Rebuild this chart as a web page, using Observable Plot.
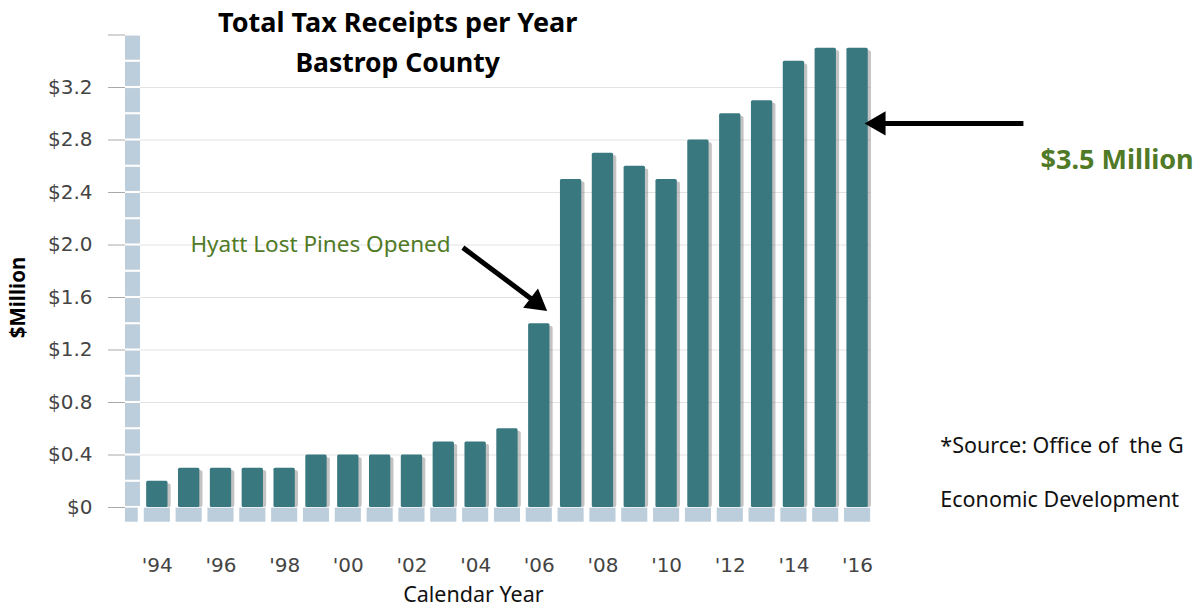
<!DOCTYPE html>
<html>
<head>
<meta charset="utf-8">
<script src="https://cdn.jsdelivr.net/npm/d3@7"></script>
<script src="https://cdn.jsdelivr.net/npm/@observablehq/plot@0.6"></script>
<style>
  html, body { margin: 0; padding: 0; background: #fff; overflow: hidden; }
  #chart svg { overflow: visible; display: block; }
</style>
</head>
<body>
<div id="chart"></div>
<script>
const years = [1994,1995,1996,1997,1998,1999,2000,2001,2002,2003,2004,2005,2006,2007,2008,2009,2010,2011,2012,2013,2014,2015,2016];
const receipts = [0.2,0.3,0.3,0.3,0.3,0.4,0.4,0.4,0.4,0.5,0.5,0.6,1.4,2.5,2.7,2.6,2.5,2.8,3.0,3.1,3.4,3.5,3.5];
const yTicks = [0,0.4,0.8,1.2,1.6,2.0,2.4,2.8,3.2,3.6];
const yTickLabels = ["$0","$0.4","$0.8","$1.2","$1.6","$2.0","$2.4","$2.8","$3.2",""];
const xTickYears = [1994,1996,1998,2000,2002,2004,2006,2008,2010,2012,2014,2016];
const xTickLabels = ["'94","'96","'98","'00","'02","'04","'06","'08","'10","'12","'14","'16"];
const bandSteps = [0,0.2,0.4,0.6,0.8,1.0,1.2,1.4,1.6,1.8,2.0,2.2,2.4,2.6,2.8,3.0,3.2,3.4];

// annotation arrows: tail and head centre in data units, head rotation in degrees
const arrowTailX = [2003.6, 2021.21];
const arrowTailY = [1.98, 2.926];
const arrowHeadX = [2005.9, 2016.66];
const arrowHeadY = [1.5627, 2.926];
const arrowRotate = [127.7, 270];

const bars = years.map((y, i) => ({year: y, value: receipts[i]}));
const arrows = arrowTailX.map((x, i) => ({x1: x, y1: arrowTailY[i], x2: arrowHeadX[i], y2: arrowHeadY[i], rot: arrowRotate[i]}));
const barHalf = 0.335;
const segHalf = 0.41;

const titleFont = "'Noto Sans', 'Open Sans', sans-serif";
const axisFont = "'DejaVu Sans', Verdana, sans-serif";
const green = "#507a26";

const chart = Plot.plot({
  width: 1199,
  height: 608,
  marginLeft: 125,
  marginRight: 326,
  marginTop: 34.5,
  marginBottom: 101,
  x: {type: "linear", domain: [1993, 2016.5], axis: null},
  y: {domain: [0, 3.6]},
  style: {fontFamily: axisFont, background: "#fff"},
  marks: [
    Plot.ruleY(yTicks.slice(1, -1), {x1: 1993.47, x2: 2016.42, stroke: "#e3e3e3", strokeWidth: 1.2}),
    Plot.rect(bandSteps, {x1: 1993, x2: 1993.47, y1: d => d + 0.008, y2: d => d + 0.192, fill: "#bccddb"}),
    Plot.rect([0], {x1: 1993, x2: 1993.4, y1: -0.112, y2: -0.005, fill: "#bccddb"}),
    Plot.rect(years, {x1: d => d - segHalf, x2: d => d + segHalf, y1: -0.112, y2: -0.005, fill: "#bccddb"}),
    Plot.rect(bars, {x1: d => d.year - barHalf + 0.08, x2: d => d.year + barHalf + 0.1, y1: 0, y2: d => d.value - 0.02, fill: "#7a7a7a", fillOpacity: 0.45, rx: 2}),
    Plot.rect(bars, {x1: d => d.year - barHalf, x2: d => d.year + barHalf, y1: 0, y2: "value", fill: "#3a7880", rx: 1.5}),
    Plot.axisY({ticks: yTicks, tickFormat: d => yTickLabels[yTicks.indexOf(d)], tickSize: 17, tickPadding: 16, stroke: "#aaa", fill: "#444", fontSize: 20, fontFamily: axisFont, label: null}),
    Plot.text(xTickYears, {x: d => d, y: -0.44, text: (d, i) => xTickLabels[i], fontSize: 20, fill: "#444", fontFamily: axisFont}),
    Plot.text(["Calendar Year"], {x: 2003.93, y: -0.665, text: d => d, fontSize: 21.5, fill: "#111", fontFamily: titleFont}),
    Plot.text(["$Million"], {x: 1989.64, y: 1.6, text: d => d, rotate: -90, fontSize: 20.5, fontWeight: "bold", fill: "#000", fontFamily: titleFont}),
    Plot.text(["Total Tax Receipts per Year"], {x: 2001.55, y: 3.69, text: d => d, fontSize: 27, fontWeight: "bold", fill: "#000", fontFamily: titleFont}),
    Plot.text(["Bastrop County"], {x: 2001.55, y: 3.383, text: d => d, fontSize: 26.5, fontWeight: "bold", fill: "#000", fontFamily: titleFont}),
    Plot.text(["Hyatt Lost Pines Opened"], {x: 1995.04, y: 2.0, text: d => d, textAnchor: "start", fontSize: 22.5, fill: green, fontFamily: titleFont}),
    Plot.link(arrows, {x1: "x1", y1: "y1", x2: "x2", y2: "y2", stroke: "#000", strokeWidth: 5}),
    Plot.dot(arrows, {x: "x2", y: "y2", symbol: "triangle", r: 9, rotate: "rot", fill: "#000", stroke: "none"}),
    Plot.text(["$3.5 Million"], {x: 2021.75, y: 2.644, text: d => d, textAnchor: "start", fontSize: 27, fontWeight: "bold", fill: green, fontFamily: titleFont}),
    Plot.text(["*Source: Office of  the G"], {x: 2018.6, y: 0.465, text: d => d, textAnchor: "start", fontSize: 21.5, fill: "#111", fontFamily: titleFont}),
    Plot.text(["Economic Development"], {x: 2018.6, y: 0.053, text: d => d, textAnchor: "start", fontSize: 21.5, fill: "#111", fontFamily: titleFont})
  ]
});
document.getElementById("chart").appendChild(chart);
</script>
</body>
</html>
